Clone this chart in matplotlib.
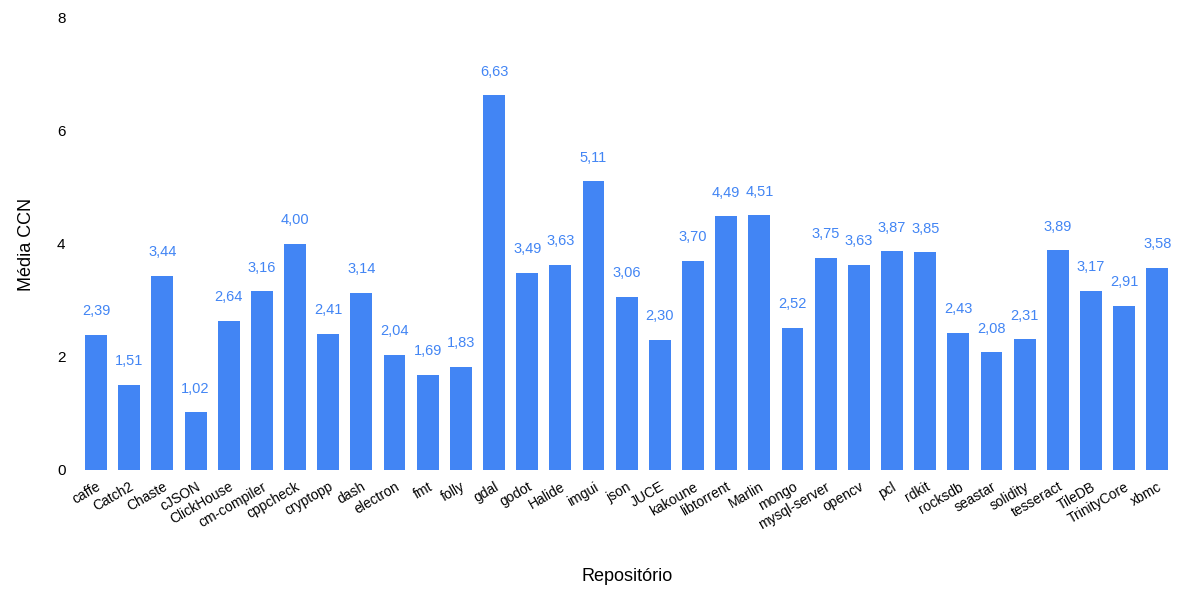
import matplotlib.pyplot as plt

plt.rcParams["font.family"] = ["Liberation Sans", "DejaVu Sans"]

# ------------------------------------
# Data
# ------------------------------------
repos = [
    "caffe", "Catch2", "Chaste", "cJSON", "ClickHouse", "cm-compiler",
    "cppcheck", "cryptopp", "dash", "electron", "fmt", "folly", "gdal",
    "godot", "Halide", "imgui", "json", "JUCE", "kakoune", "libtorrent",
    "Marlin", "mongo", "mysql-server", "opencv", "pcl", "rdkit", "rocksdb",
    "seastar", "solidity", "tesseract", "TileDB", "TrinityCore", "xbmc",
]
media_ccn = [
    2.39, 1.51, 3.44, 1.02, 2.64, 3.16, 4.00, 2.41, 3.14, 2.04, 1.69,
    1.83, 6.63, 3.49, 3.63, 5.11, 3.06, 2.30, 3.70, 4.49, 4.51, 2.52,
    3.75, 3.63, 3.87, 3.85, 2.43, 2.08, 2.31, 3.89, 3.17, 2.91, 3.58,
]
yticks = [0, 2, 4, 6, 8]

BLUE = "#4285F4"

# ------------------------------------
# Plot
# ------------------------------------
fig = plt.figure(figsize=(11.81, 5.90), dpi=100)
ax = fig.add_axes([0.0673, 0.2034, 0.9267, 0.7661])

x = range(len(repos))
bars = ax.bar(x, media_ccn, width=0.66, color=BLUE)

for xi, v in zip(x, media_ccn):
    ax.annotate(
        f"{v:.2f}".replace(".", ","),
        (xi, v),
        xytext=(0, 12),
        textcoords="offset points",
        ha="center",
        va="bottom",
        color=BLUE,
        fontsize=10.5,
    )

ax.set_xlim(-0.5, len(repos) - 0.5)
ax.set_ylim(0, 8)
ax.set_yticks(yticks)
ax.set_yticklabels([str(t) for t in yticks], fontsize=11)
ax.set_xticks(list(x))
ax.set_xticklabels(repos, rotation=30, ha="right", rotation_mode="anchor", fontsize=10)
ax.tick_params(axis="both", length=0)
ax.tick_params(axis="y", pad=10)
ax.tick_params(axis="x", pad=7)

for s in ax.spines.values():
    s.set_visible(False)

ax.set_xlabel("Repositório", fontsize=13, labelpad=26)
ax.set_ylabel("Média CCN", fontsize=13, labelpad=16)

fig.savefig("out.png", dpi=100)
